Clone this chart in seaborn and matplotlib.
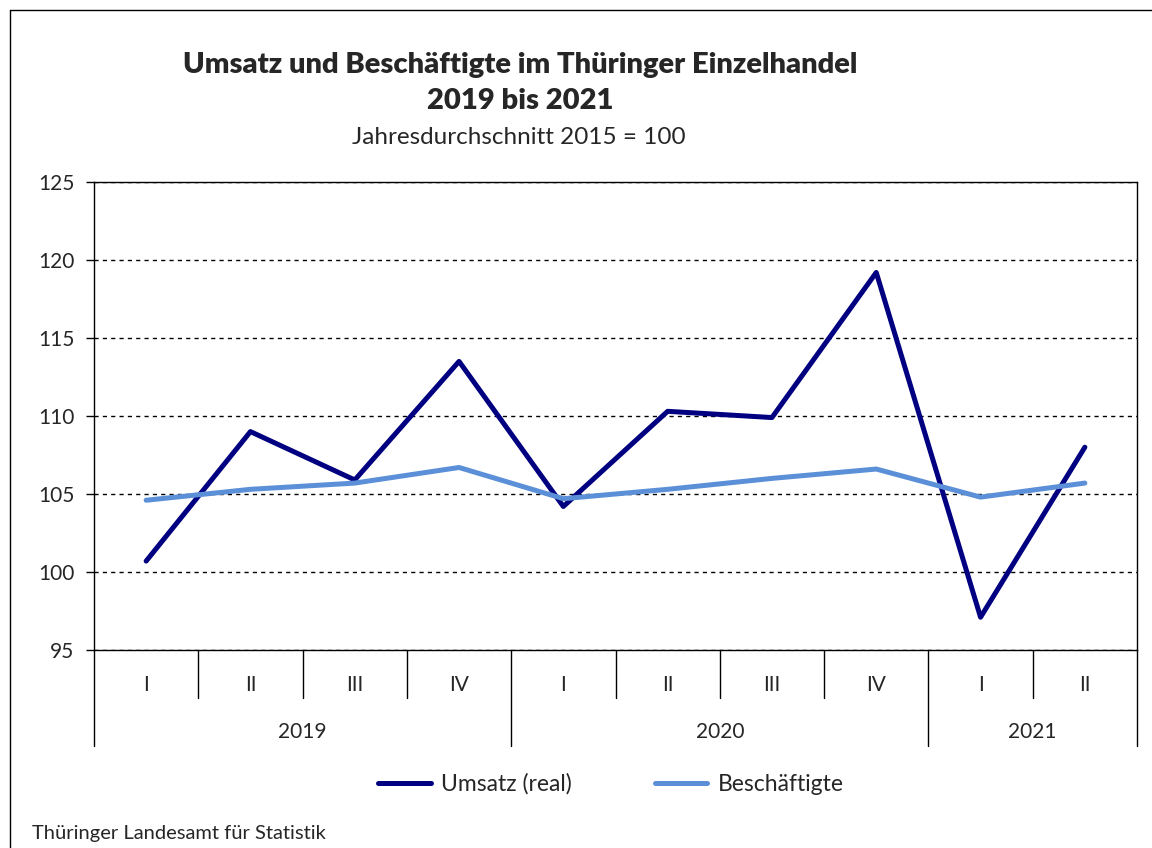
import matplotlib
matplotlib.use('Agg')
import matplotlib.pyplot as plt
from matplotlib.lines import Line2D
import pandas as pd
import seaborn as sns

# ==================================================================================
# Data (Jahresdurchschnitt 2015 = 100)
quarters = ['I', 'II', 'III', 'IV', 'I', 'II', 'III', 'IV', 'I', 'II']
years = ['2019', '2020', '2021']
year_quarters = [4, 4, 2]  # quarters shown per year
umsatz = [100.7, 109.0, 105.9, 113.5, 104.2, 110.3, 109.9, 119.2, 97.1, 108.0]
beschaeftigte = [104.6, 105.3, 105.7, 106.7, 104.7, 105.3, 106.0, 106.6, 104.8, 105.7]
series_names = ['Umsatz (real)', 'Beschäftigte']
colors = ['#000080', '#5b8fd8']

sns.set_style('white')
plt.rcParams['font.family'] = ['Lato', 'DejaVu Sans']

df = pd.DataFrame({'pos': list(range(len(quarters))) * 2,
                   'wert': umsatz + beschaeftigte,
                   'reihe': [series_names[0]] * len(umsatz) + [series_names[1]] * len(beschaeftigte)})

fig = plt.figure(figsize=(11.52, 8.48), dpi=100)
ax = fig.add_axes([94 / 1152, 1 - 650 / 848, (1137 - 94) / 1152, (650 - 182) / 848])

sns.lineplot(data=df, x='pos', y='wert', hue='reihe', palette=colors, hue_order=series_names,
             linewidth=3.6, ax=ax, legend=False, solid_capstyle='round')

ax.set_xlim(-0.5, len(quarters) - 0.5)
ax.set_ylim(95, 125)
ax.set_yticks(range(95, 126, 5))
ax.yaxis.grid(True, color='black', linestyle=(0, (3, 3)), linewidth=1.0)
ax.set_axisbelow(True)
for s in ax.spines.values():
    s.set_color('black')
    s.set_linewidth(1.0)
ax.set_xticks([])
ax.set_xlabel('')
ax.set_ylabel('')
ax.tick_params(axis='y', left=True, length=6, width=1, color='black', labelsize=15, pad=8)

# category axis: quarters and years
trans = ax.get_xaxis_transform()
for i, q in enumerate(quarters):
    ax.text(i, -0.075, q, transform=trans, ha='center', va='center', fontsize=15)
bounds = [-0.5]
for n in year_quarters:
    bounds.append(bounds[-1] + n)
for b in range(len(quarters) + 1):
    xb = b - 0.5
    depth = -0.205 if xb in bounds else -0.103
    ax.plot([xb, xb], [0, depth], transform=trans, color='black', lw=1, clip_on=False)
for y, a, b in zip(years, bounds[:-1], bounds[1:]):
    ax.text((a + b) / 2, -0.175, y, transform=trans, ha='center', va='center', fontsize=15)

# titles
fig.text(520 / 1152, 1 - 65 / 848, 'Umsatz und Beschäftigte im Thüringer Einzelhandel',
         ha='center', va='center', fontsize=21, fontweight='heavy')
fig.text(520 / 1152, 1 - 101 / 848, '2019 bis 2021', ha='center', va='center', fontsize=21, fontweight='heavy')
fig.text(519 / 1152, 1 - 137 / 848, 'Jahresdurchschnitt 2015 = 100', ha='center', va='center', fontsize=17.5)

# legend
handles = [Line2D([0], [0], color=c, lw=3.6, solid_capstyle='round') for c in colors]
fig.legend(handles, series_names, loc='center', bbox_to_anchor=(611 / 1152, 1 - 784 / 848), ncol=2,
           frameon=False, fontsize=16.5, handlelength=2.3, handletextpad=0.45, columnspacing=3.6)

fig.text(32 / 1152, 1 - 833 / 848, 'Thüringer Landesamt für Statistik', ha='left', va='center', fontsize=14.5)

# outer frame
fig.add_artist(Line2D([10 / 1152, 10 / 1152], [0, 1 - 10 / 848], transform=fig.transFigure, color='black', lw=1))
fig.add_artist(Line2D([10 / 1152, 1], [1 - 10 / 848, 1 - 10 / 848], transform=fig.transFigure, color='black', lw=1))

fig.savefig('out.png', dpi=100)
